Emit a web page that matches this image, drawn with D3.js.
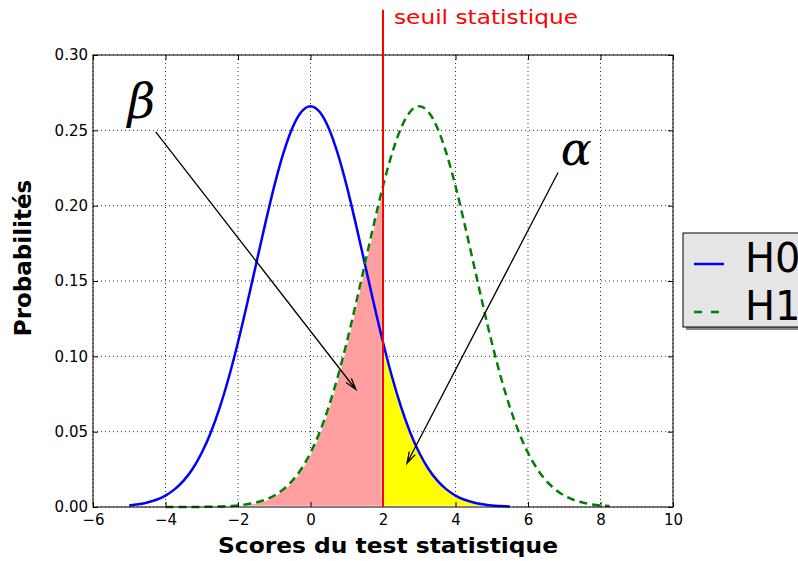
<!DOCTYPE html>
<html lang="fr">
<head>
<meta charset="UTF-8">
<title>Seuil statistique</title>
<script src="https://d3js.org/d3.v7.min.js"></script>
<style>
  body { margin: 0; background: #fff; }
  svg { display: block; font-family: "DejaVu Sans", sans-serif; }
</style>
</head>
<body>
<script>
// valeurs
var h0X = [-5, -4.75, -4.5, -4.25, -4, -3.75, -3.5, -3.25, -3, -2.75, -2.5, -2.25, -2, -1.75, -1.5, -1.25, -1, -0.75, -0.5, -0.25,
           0, 0.25, 0.5, 0.75, 1, 1.25, 1.5, 1.75, 2, 2.25, 2.5, 2.75, 3, 3.25, 3.5, 3.75, 4, 4.25, 4.5, 4.75, 5, 5.25, 5.5];
var h0Y = [0.0010, 0.0018, 0.0030, 0.0048, 0.0076, 0.0117, 0.0175, 0.0254, 0.0360, 0.0495, 0.0663, 0.0863, 0.1093, 0.1347, 0.1613, 0.1879, 0.2130, 0.2347, 0.2516, 0.2623,
           0.2660, 0.2623, 0.2516, 0.2347, 0.2130, 0.1879, 0.1613, 0.1347, 0.1093, 0.0863, 0.0663, 0.0495, 0.0360, 0.0254, 0.0175, 0.0117, 0.0076, 0.0048, 0.0030, 0.0018, 0.0010, 0.0006, 0.0003];

var h1X = [-4, -3.75, -3.5, -3.25, -3, -2.75, -2.5, -2.25, -2, -1.75, -1.5, -1.25, -1, -0.75, -0.5, -0.25,
           0, 0.25, 0.5, 0.75, 1, 1.25, 1.5, 1.75, 2, 2.25, 2.5, 2.75, 3, 3.25, 3.5, 3.75, 4, 4.25, 4.5, 4.75,
           5, 5.25, 5.5, 5.75, 6, 6.25, 6.5, 6.75, 7, 7.25, 7.5, 7.75, 8, 8.25];
var h1Y = [0.0000, 0.0000, 0.0000, 0.0000, 0.0001, 0.0002, 0.0003, 0.0006, 0.0010, 0.0018, 0.0030, 0.0048, 0.0076, 0.0117, 0.0175, 0.0254,
           0.0360, 0.0495, 0.0663, 0.0863, 0.1093, 0.1347, 0.1613, 0.1879, 0.2130, 0.2347, 0.2516, 0.2623, 0.2660, 0.2623, 0.2516, 0.2347, 0.2130, 0.1879, 0.1613, 0.1347,
           0.1093, 0.0863, 0.0663, 0.0495, 0.0360, 0.0254, 0.0175, 0.0117, 0.0076, 0.0048, 0.0030, 0.0018, 0.0010, 0.0006];

var seriesNames = ["H0", "H1"];
var threshold = 2;
var xTicks = [-6, -4, -2, 0, 2, 4, 6, 8, 10];
var yTicks = [0, 0.05, 0.10, 0.15, 0.20, 0.25, 0.30];

// annotations (coordonnees des donnees)
var betaText = [-5.05, 0.258];
var betaArrow = [[-4.27, 0.249], [1.25, 0.078]];
var alphaText = [6.9, 0.227];
var alphaArrow = [[6.83, 0.222], [2.66, 0.029]];

var W = 798, H = 561;
var margin = {left: 93, top: 55, right: 125, bottom: 54};
var w = W - margin.left - margin.right;
var h = H - margin.top - margin.bottom;

var svg = d3.select("body").append("svg")
    .attr("width", W)
    .attr("height", H);

var x = d3.scaleLinear().domain([-6, 10]).range([0, w]);
var y = d3.scaleLinear().domain([0, 0.30]).range([h, 0]);

var g = svg.append("g")
    .attr("transform", "translate(" + margin.left + "," + margin.top + ")");

// grille pointillee
g.selectAll(".gx").data(xTicks).enter().append("line")
    .attr("x1", d => x(d)).attr("x2", d => x(d))
    .attr("y1", 0).attr("y2", h)
    .attr("stroke", "#000").attr("stroke-width", 0.8)
    .attr("stroke-dasharray", "1,3");
g.selectAll(".gy").data(yTicks).enter().append("line")
    .attr("x1", 0).attr("x2", w)
    .attr("y1", d => y(d)).attr("y2", d => y(d))
    .attr("stroke", "#000").attr("stroke-width", 0.8)
    .attr("stroke-dasharray", "1,3");

var h0 = h0X.map((v, i) => [v, h0Y[i]]);
var h1 = h1X.map((v, i) => [v, h1Y[i]]);

var area = d3.area()
    .x(d => x(d[0]))
    .y0(y(0))
    .y1(d => y(d[1]))
    .curve(d3.curveMonotoneX);

var line = d3.line()
    .x(d => x(d[0]))
    .y(d => y(d[1]))
    .curve(d3.curveMonotoneX);

// beta : sous H1 a gauche du seuil
g.append("path")
    .datum(h1.filter(d => d[0] <= threshold))
    .attr("d", area)
    .attr("fill", "#ff9f9f")
    .attr("stroke", "#fff").attr("stroke-width", 2.5);

// alpha : sous H0 a droite du seuil
g.append("path")
    .datum(h0.filter(d => d[0] >= threshold))
    .attr("d", area)
    .attr("fill", "#ffff00")
    .attr("stroke", "#fff").attr("stroke-width", 2.5);

g.append("path")
    .datum(h0)
    .attr("d", line)
    .attr("fill", "none")
    .attr("stroke", "#0000ff")
    .attr("stroke-width", 2.5);

g.append("path")
    .datum(h1)
    .attr("d", line)
    .attr("fill", "none")
    .attr("stroke", "#008000")
    .attr("stroke-width", 2.5)
    .attr("stroke-dasharray", "8,5");

// axes, ticks vers l'interieur
var fmt = d3.format(".2f");
var minus = d => d < 0 ? "\u2212" + Math.abs(d) : "" + d;

g.append("g")
    .attr("transform", "translate(0," + h + ")")
    .call(d3.axisBottom(x).tickValues(xTicks).tickFormat(minus).tickSize(-5).tickPadding(7));
g.append("g")
    .call(d3.axisLeft(y).tickValues(yTicks).tickFormat(fmt).tickSize(-5).tickPadding(5));
g.append("g")
    .call(d3.axisTop(x).tickValues(xTicks).tickFormat("").tickSize(-5));
g.append("g")
    .attr("transform", "translate(" + w + ",0)")
    .call(d3.axisRight(y).tickValues(yTicks).tickFormat("").tickSize(-5));

g.selectAll(".domain").remove();
g.selectAll(".tick text").attr("font-size", 15).attr("font-family", "DejaVu Sans").attr("fill", "#000");
g.selectAll(".tick line").attr("stroke", "#000");

g.append("rect")
    .attr("width", w).attr("height", h)
    .attr("fill", "none").attr("stroke", "#000").attr("stroke-width", 1);

// seuil
g.append("line")
    .attr("x1", x(threshold)).attr("x2", x(threshold))
    .attr("y1", y(0.33)).attr("y2", y(0))
    .attr("stroke", "#ff0000").attr("stroke-width", 2);

g.append("text")
    .attr("x", x(threshold) + 11)
    .attr("y", y(0.3205))
    .attr("fill", "#ff0000")
    .attr("font-size", 20)
    .attr("textLength", 184)
    .attr("lengthAdjust", "spacingAndGlyphs")
    .text("seuil statistique");

// fleches
function arrow(pts) {
    var x1 = x(pts[0][0]), y1 = y(pts[0][1]);
    var x2 = x(pts[1][0]), y2 = y(pts[1][1]);
    var a = Math.atan2(y2 - y1, x2 - x1);
    var len = 12, sp = 0.28;
    var p = "M" + x1 + "," + y1 + "L" + x2 + "," + y2 +
        "M" + (x2 - len * Math.cos(a - sp)) + "," + (y2 - len * Math.sin(a - sp)) +
        "L" + x2 + "," + y2 +
        "L" + (x2 - len * Math.cos(a + sp)) + "," + (y2 - len * Math.sin(a + sp));
    g.append("path").attr("d", p)
        .attr("fill", "none").attr("stroke", "#000").attr("stroke-width", 1.3);
}
arrow(betaArrow);
arrow(alphaArrow);

g.append("text")
    .attr("x", x(betaText[0])).attr("y", y(betaText[1]))
    .attr("font-family", "DejaVu Serif").attr("font-style", "italic")
    .attr("font-size", 48)
    .text("\u03b2");
g.append("text")
    .attr("x", x(alphaText[0])).attr("y", y(alphaText[1]))
    .attr("font-family", "DejaVu Serif").attr("font-style", "italic")
    .attr("font-size", 46)
    .text("\u03b1");

// titres des axes
svg.append("text")
    .attr("x", 218)
    .attr("y", 553)
    .attr("font-weight", "bold")
    .attr("font-size", 21)
    .attr("textLength", 340)
    .attr("lengthAdjust", "spacingAndGlyphs")
    .text("Scores du test statistique");

svg.append("text")
    .attr("transform", "translate(31,258) rotate(-90)")
    .attr("text-anchor", "middle")
    .attr("font-weight", "bold")
    .attr("font-size", 23)
    .text("Probabilités");

// legende
var leg = svg.append("g").attr("transform", "translate(683,233)");
leg.append("rect")
    .attr("x", 3).attr("y", 3).attr("width", 200).attr("height", 94)
    .attr("fill", "#888");
leg.append("rect")
    .attr("width", 200).attr("height", 94)
    .attr("fill", "#e5e5e5").attr("stroke", "#000").attr("stroke-width", 1);

var legColors = ["#0000ff", "#008000"];
var legDash = [null, "8,9"];
seriesNames.forEach(function(name, i) {
    var yy = 31 + i * 48;
    leg.append("line")
        .attr("x1", 11).attr("x2", 41)
        .attr("y1", yy).attr("y2", yy)
        .attr("stroke", legColors[i]).attr("stroke-width", 2.5)
        .attr("stroke-dasharray", legDash[i]);
    leg.append("text")
        .attr("x", 62).attr("y", yy + 8)
        .attr("font-size", 40)
        .text(name);
});
</script>
</body>
</html>
